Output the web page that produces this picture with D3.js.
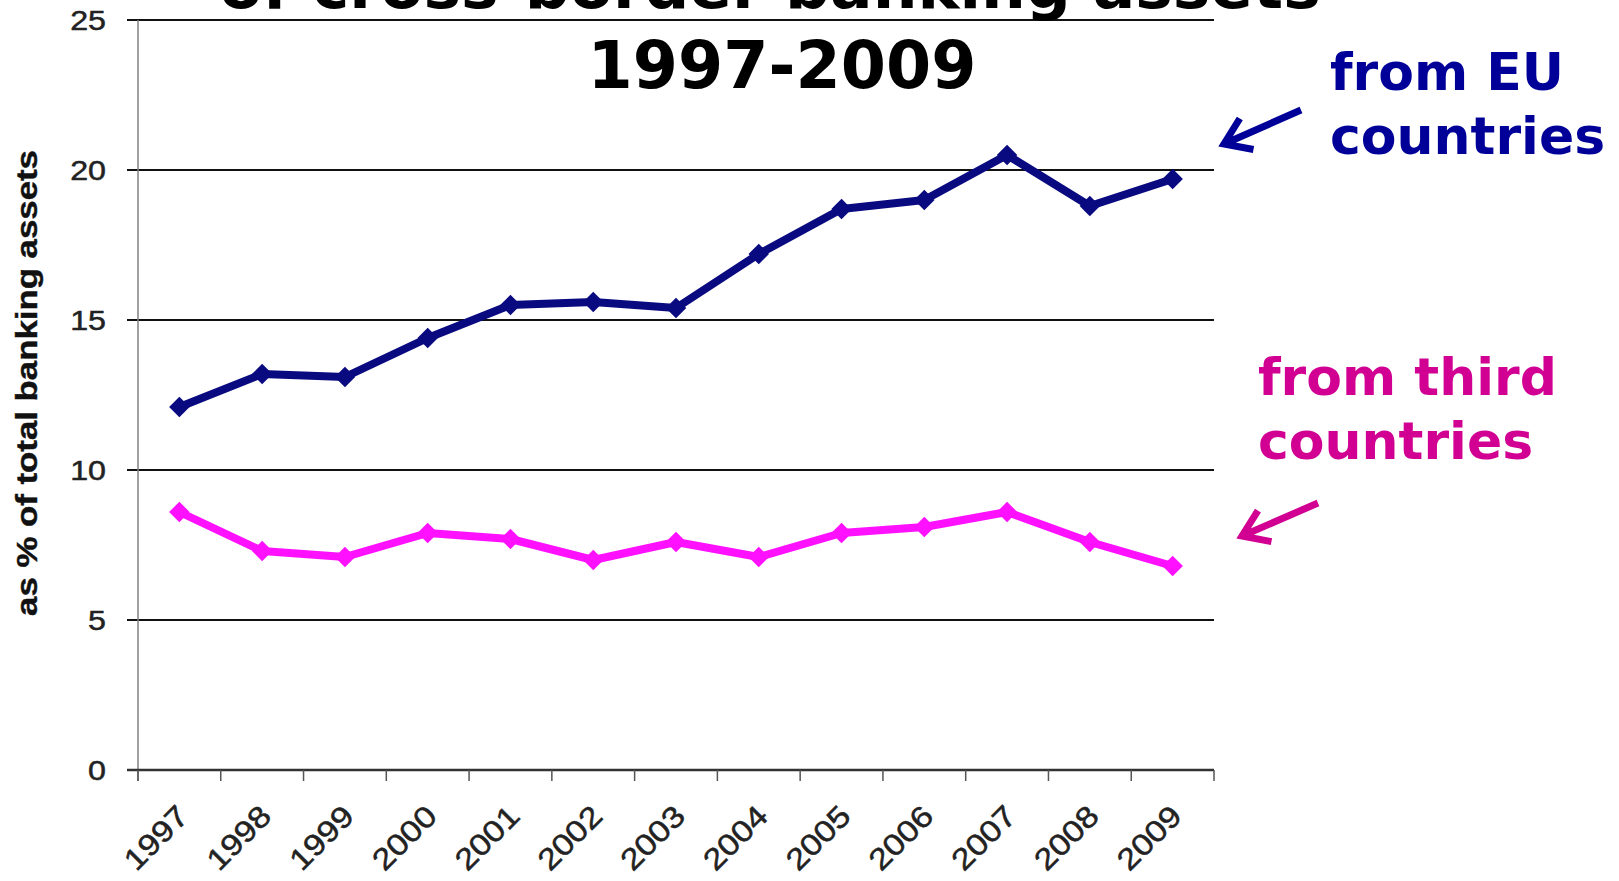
<!DOCTYPE html>
<html>
<head>
<meta charset="utf-8">
<script src="https://cdn.jsdelivr.net/npm/d3@7"></script>
<style>
  body { margin: 0; background: #fff; }
  svg { display: block; }
</style>
</head>
<body>
<svg id="chart" width="1619" height="881"></svg>
<script>
// Cross-border banking assets, as % of total banking assets
const years = ['1997', '1998', '1999', '2000', '2001', '2002', '2003',
               '2004', '2005', '2006', '2007', '2008', '2009'];
const fromEU = [12.1, 13.2, 13.1, 14.4, 15.5, 15.6, 15.4, 17.2, 18.7, 19.0, 20.5, 18.8, 19.7];
const fromThird = [8.6, 7.3, 7.1, 7.9, 7.7, 7.0, 7.6, 7.1, 7.9, 8.1, 8.6, 7.6, 6.8];
const yTicks = [0, 5, 10, 15, 20, 25];

(function () {
  const svg = d3.select('#chart');
  const plotLeft = 138, plotRight = 1214, plotTop = 20, plotBottom = 770;

  const x = d3.scaleBand().domain(years).range([plotLeft, plotRight]).padding(0);
  const y = d3.scaleLinear().domain([0, 25]).range([plotBottom, plotTop]);
  const cx = d => x(d) + x.bandwidth() / 2;

  // gridlines (0 is drawn as the axis line)
  svg.append('g')
    .selectAll('line')
    .data(yTicks.filter(t => t > 0))
    .join('line')
    .attr('x1', plotLeft - 11).attr('x2', plotRight)
    .attr('y1', d => y(d)).attr('y2', d => y(d))
    .attr('stroke', '#111').attr('stroke-width', 2);

  // y axis line + labels
  svg.append('line')
    .attr('x1', plotLeft).attr('x2', plotLeft)
    .attr('y1', y(25)).attr('y2', plotBottom + 11)
    .attr('stroke', '#808080').attr('stroke-width', 1.5);

  svg.append('g')
    .selectAll('text')
    .data(yTicks)
    .join('text')
    .attr('transform', d => `translate(106,${y(d)}) scale(1.15,1)`)
    .attr('dy', '0.36em')
    .attr('text-anchor', 'end')
    .style('font', '28px "Liberation Sans", Arial, sans-serif')
    .attr('fill', '#222')
    .attr('stroke', '#222').attr('stroke-width', 0.5)
    .text(d => d);

  // x axis line + ticks at category boundaries
  svg.append('line')
    .attr('x1', plotLeft - 11).attr('x2', plotRight)
    .attr('y1', plotBottom).attr('y2', plotBottom)
    .attr('stroke', '#333').attr('stroke-width', 2.5);

  const bounds = years.map(d => x(d)).concat([plotRight]);
  svg.append('g')
    .selectAll('line')
    .data(bounds)
    .join('line')
    .attr('x1', d => d).attr('x2', d => d)
    .attr('y1', plotBottom).attr('y2', plotBottom + 11)
    .attr('stroke', '#555').attr('stroke-width', 1.5);

  svg.append('g')
    .selectAll('text')
    .data(years)
    .join('text')
    .attr('transform', d => `translate(${cx(d) + 11},818) rotate(-45) scale(1.15,1)`)
    .attr('text-anchor', 'end')
    .style('font', '30px "Liberation Sans", Arial, sans-serif')
    .attr('fill', '#222')
    .attr('stroke', '#222').attr('stroke-width', 0.5)
    .text(d => d);

  // y axis title
  svg.append('text')
    .attr('transform', 'translate(37,383) rotate(-90) scale(1.2,1)')
    .attr('text-anchor', 'middle')
    .style('font', 'bold 29px "Liberation Sans", Arial, sans-serif')
    .attr('fill', '#111')
    .attr('stroke', '#111').attr('stroke-width', 0.4)
    .text('as % of total banking assets');

  // series
  const line = d3.line().x((d, i) => cx(years[i])).y(d => y(d));
  const series = [
    { values: fromEU, color: '#0a0a80' },
    { values: fromThird, color: '#ff10ff' },
  ];
  const diamond = d3.symbol().type(d3.symbolSquare).size(210);

  series.forEach(s => {
    svg.append('path')
      .attr('d', line(s.values))
      .attr('fill', 'none')
      .attr('stroke', s.color)
      .attr('stroke-width', 8)
      .attr('stroke-linejoin', 'round');
    svg.append('g')
      .selectAll('path')
      .data(s.values)
      .join('path')
      .attr('transform', (d, i) => `translate(${cx(years[i])},${y(d)}) rotate(45)`)
      .attr('d', diamond)
      .attr('fill', s.color);
  });

  // title (upper line is cut off by the frame)
  svg.append('text')
    .attr('x', 770).attr('y', 8)
    .attr('text-anchor', 'middle')
    .style('font', 'bold 63px "DejaVu Sans", Verdana, sans-serif')
    .text('of cross-border banking assets');
  svg.append('text')
    .attr('x', 782).attr('y', 88)
    .attr('text-anchor', 'middle')
    .style('font', 'bold 65px "DejaVu Sans", Verdana, sans-serif')
    .text('1997-2009');

  // annotations with arrows
  const notes = [
    { lines: ['from EU', 'countries'], color: '#000099', x: 1330, y: 90,
      arrow: { from: [1301, 110], tip: [1224, 144] } },
    { lines: ['from third', 'countries'], color: '#d10093', x: 1258, y: 395,
      arrow: { from: [1318, 503], tip: [1242, 536] } },
  ];

  notes.forEach(n => {
    const t = svg.append('text')
      .attr('x', n.x).attr('y', n.y)
      .style('font', 'bold 52px "DejaVu Sans", Verdana, sans-serif')
      .attr('fill', n.color);
    n.lines.forEach((l, i) => {
      t.append('tspan').attr('x', n.x).attr('dy', i ? 64 : 0).text(l);
    });

    const [fx, fy] = n.arrow.from, [tx, ty] = n.arrow.tip;
    const ang = Math.atan2(fy - ty, fx - tx);
    const head = 30, spread = 0.6;
    const h1 = [tx + head * Math.cos(ang - spread), ty + head * Math.sin(ang - spread)];
    const h2 = [tx + head * Math.cos(ang + spread), ty + head * Math.sin(ang + spread)];
    svg.append('path')
      .attr('d', `M${fx},${fy}L${tx},${ty}M${h1}L${tx},${ty}L${h2}`)
      .attr('fill', 'none')
      .attr('stroke', n.color)
      .attr('stroke-width', 7)
      .attr('stroke-linecap', 'butt')
      .attr('stroke-linejoin', 'miter');
  });
})();
</script>
</body>
</html>
